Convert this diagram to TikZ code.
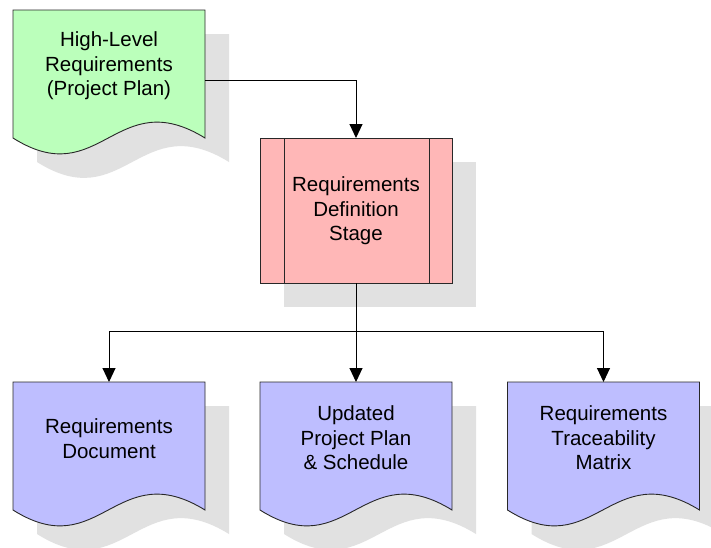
\documentclass[tikz,border=0pt]{standalone}
\usepackage{fontspec}
\setmainfont{Liberation Sans}
\usetikzlibrary{arrows.meta,calc}
\pgfdeclarelayer{shadowlayer}
\pgfdeclarelayer{shapelayer}
\pgfsetlayers{shadowlayer,shapelayer,main}
\definecolor{docgreen}{RGB}{187,255,187}
\definecolor{procpink}{RGB}{255,183,183}
\definecolor{doclav}{RGB}{190,190,255}
\definecolor{shadowgray}{RGB}{225,225,225}
\definecolor{edgegray}{RGB}{40,40,40}
\newcommand\docpath[3]{($(#1.north west)+(#2,#3)$) -- ($(#1.north east)+(#2,#3)$) -- ($(#1.south east)+(#2,#3)$) .. controls ($(#1.south east)+(#2-89,#3-55)$) and ($(#1.south west)+(#2+87,#3+55)$) .. ($(#1.south west)+(#2,#3)$) -- cycle}
\tikzset{
  geom/.style={inner sep=0pt, outer sep=0pt, minimum width=192pt},
  docgeom/.style={geom, minimum height=128pt},
  procgeom/.style={geom, minimum height=145pt},
  txt/.style={align=center, inner sep=0pt, font=\fontsize{20.5}{24.5}\selectfont},
  shapeline/.style={draw=edgegray, line width=0.9pt},
  shadowfill/.style={fill=shadowgray},
  conn/.style={draw=black, line width=1pt},
  arrowconn/.style={conn, -{Triangle[length=14pt,width=13pt]}},
}
\begin{document}
\begin{tikzpicture}[x=1pt,y=-1pt]
\useasboundingbox (0,0) rectangle (711,547);
% geometry nodes
\node[docgeom] (hlr) at (109,74) {};
\node[procgeom] (rds) at (356,210.5) {};
\node[docgeom] (rd) at (109,446) {};
\node[docgeom] (upd) at (356,446) {};
\node[docgeom] (rtm) at (603.5,446) {};
% shadows
\begin{pgfonlayer}{shadowlayer}
  \fill[white] (0,0) rectangle (711,547);
  \fill[shadowfill] \docpath{hlr}{24}{24};
  \fill[shadowfill] ($(rds.north west)+(24,24)$) rectangle ($(rds.south east)+(24,24)$);
  \fill[shadowfill] \docpath{rd}{24}{24};
  \fill[shadowfill] \docpath{upd}{24}{24};
  \fill[shadowfill] \docpath{rtm}{24}{24};
\end{pgfonlayer}
% shapes
\begin{pgfonlayer}{shapelayer}
  \filldraw[shapeline, fill=docgreen] \docpath{hlr}{0}{0};
  \filldraw[shapeline, fill=procpink] (rds.north west) rectangle (rds.south east);
  \draw[shapeline] ($(rds.north west)+(24,0)$) -- ($(rds.south west)+(24,0)$);
  \draw[shapeline] ($(rds.north east)+(-23,0)$) -- ($(rds.south east)+(-23,0)$);
  \filldraw[shapeline, fill=doclav] \docpath{rd}{0}{0};
  \filldraw[shapeline, fill=doclav] \docpath{upd}{0}{0};
  \filldraw[shapeline, fill=doclav] \docpath{rtm}{0}{0};
\end{pgfonlayer}
% texts
\node[txt] (hlr-t) at (109,66) {High-Level\\Requirements\\(Project Plan)};
\node[txt] (rds-t) at (356,211) {Requirements\\Definition\\Stage};
\node[txt] (rd-t) at (109,438.5) {Requirements\\Document};
\node[txt] (upd-t) at (356,438) {Updated\\Project Plan\\\& Schedule};
\node[txt] (rtm-t) at (603.5,438) {Requirements\\Traceability\\Matrix};
% connectors
\coordinate (split) at (356,331);
\draw[arrowconn] ([yshift=-6pt]hlr.east) -| (rds.north);
\draw[conn] (rds.south) -- (split);
\draw[arrowconn] (split) -| (rd.north);
\draw[arrowconn] (split) -- (upd.north);
\draw[arrowconn] (split) -| (rtm.north);
\end{tikzpicture}
\end{document}
